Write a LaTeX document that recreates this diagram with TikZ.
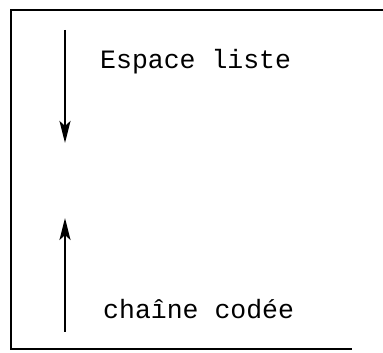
\documentclass[tikz,border=0pt]{standalone}
\usepackage{fontspec}
\usepackage{tikz}
\newfontfamily\schreibmaschine{Liberation Mono}
\tikzset{
  pfeil/.style={line width=2.4pt, -{Stealth[length=22pt, width=11pt, inset=5pt]}},
  beschriftung/.style={anchor=base west, inner sep=0pt, font=\schreibmaschine\fontsize{26.5}{30}\selectfont}
}
\usetikzlibrary{arrows.meta}
\begin{document}
\begin{tikzpicture}[x=1pt, y=1pt]
				%Bildbereich
				\useasboundingbox (0,0) rectangle (383,353);
				%Rahmen zeichnen (rechts offen)
				\draw[line width=2.6pt] (383,343) -- (11,343) -- (11,4) -- (352,4);
				%Endpunkte der Pfeile
				\coordinate (listeAnfang) at (65,323);
				\coordinate (listeEnde) at (65,210);
				\coordinate (kodeAnfang) at (65,21);
				\coordinate (kodeEnde) at (65,135);
				%Pfeile zeichnen
				\draw[pfeil] (listeAnfang) -- (listeEnde);
				\draw[pfeil] (kodeAnfang) -- (kodeEnde);
				%Beschriftung
				\node[beschriftung] (liste) at (100,284) {Espace liste};
				\node[beschriftung] (kode) at (103,34) {chaîne codée};
			\end{tikzpicture}
\end{document}
